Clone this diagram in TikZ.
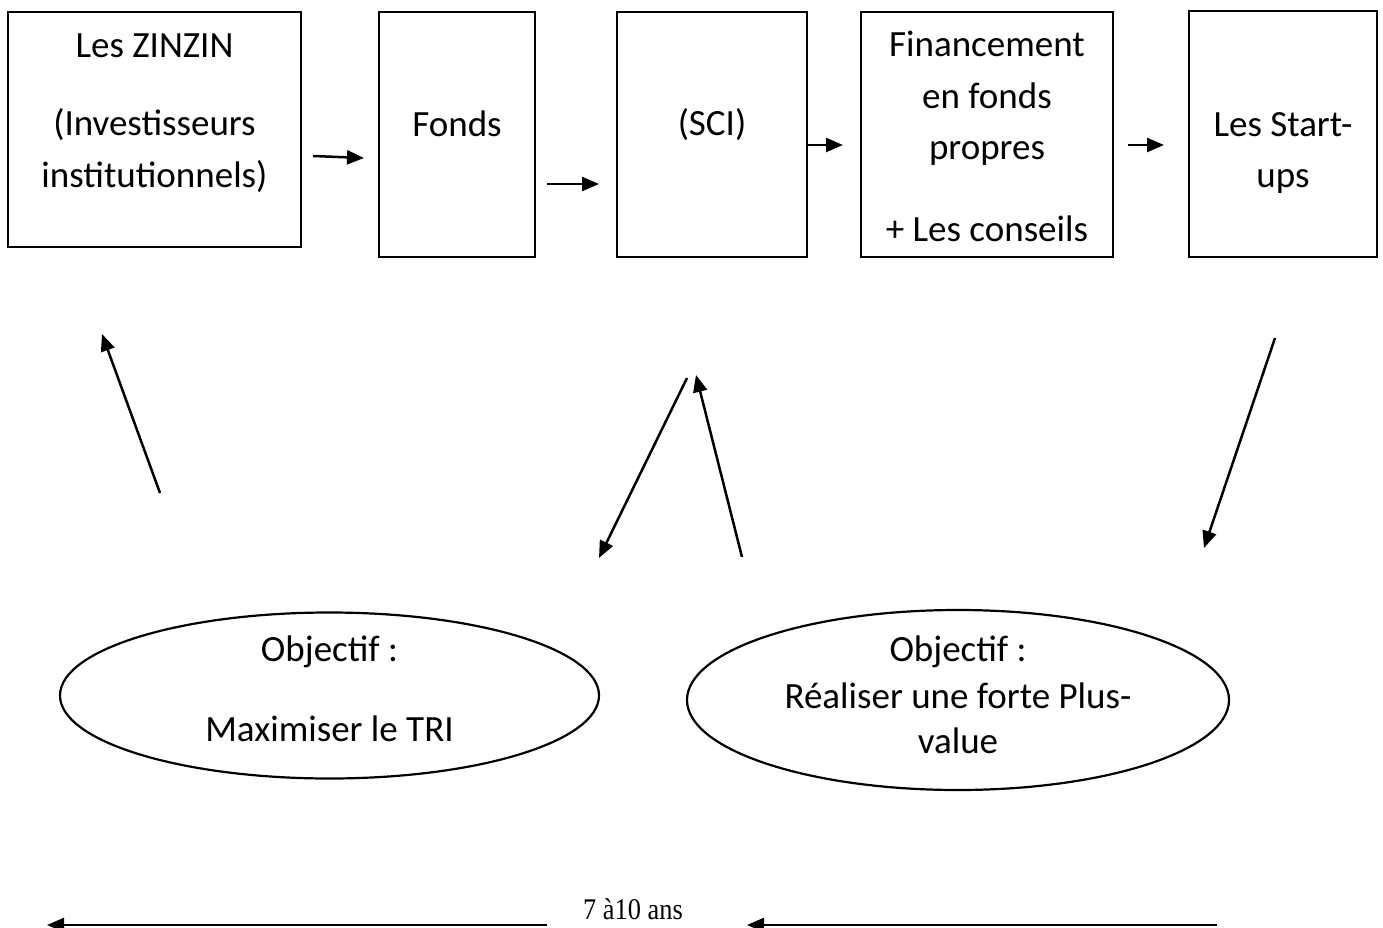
\documentclass[tikz,border=0pt]{standalone}
\usepackage{fontspec}
\setmainfont{Carlito}
\newfontfamily\timesfont{Liberation Serif}
\usetikzlibrary{arrows.meta,shapes.geometric}
\begin{document}
\begin{tikzpicture}[x=1pt,y=-1pt,
  box/.style={draw,line width=2.5pt,inner sep=0pt},
  oval/.style={draw,ellipse,line width=2.2pt,inner sep=0pt},
  txt/.style={anchor=base,inner sep=0pt,font=\fontsize{37pt}{44pt}\selectfont},
  arr/.style={line width=2.5pt,-{Triangle[length=17pt,width=14pt]}}]
\useasboundingbox (0,0) rectangle (1383,928);
% boxes
\node[box,minimum width=293pt,minimum height=235pt] (b1) at (154.5,129.5) {};
\node[box,minimum width=156pt,minimum height=245pt] (b2) at (457,134.5) {};
\node[box,minimum width=190pt,minimum height=245pt] (b3) at (712,134.5) {};
\node[box,minimum width=252pt,minimum height=245pt] (b4) at (987,134.5) {};
\node[box,minimum width=188pt,minimum height=246pt] (b5) at (1283,134) {};
% box texts
\node[txt] (t1a) at (154.5,58) {Les ZINZIN};
\node[txt] (t1b) at (154.5,136) {(Investisseurs};
\node[txt] (t1c) at (154.5,188) {institutionnels)};
\node[txt] (t2) at (457,137) {Fonds};
\node[txt] (t3) at (712,136) {(SCI)};
\node[txt] (t4a) at (987,57) {Financement};
\node[txt] (t4b) at (987,109) {en fonds};
\node[txt] (t4c) at (987,160) {propres};
\node[txt] (t4d) at (987,241) {+ Les conseils};
\node[txt] (t5a) at (1283,137) {Les Start-};
\node[txt] (t5b) at (1283,188) {ups};
% ellipses
\node[oval,minimum width=539pt,minimum height=166pt] (e1) at (329.5,695.5) {};
\node[oval,minimum width=542pt,minimum height=180pt] (e2) at (958,700) {};
\node[txt] (e1a) at (329.5,661) {Objectif :};
\node[txt] (e1b) at (329.5,741) {Maximiser le TRI};
\node[txt] (e2a) at (958,661) {Objectif :};
\node[txt] (e2b) at (958,708) {Réaliser une forte Plus-};
\node[txt] (e2c) at (958,753) {value};
% small horizontal arrows
\coordinate (a1s) at (313,156); \coordinate (a1e) at (364,158);
\coordinate (a2s) at (547,184); \coordinate (a2e) at (599,184);
\coordinate (a3s) at (808,145); \coordinate (a3e) at (843,145);
\coordinate (a4s) at (1128,145); \coordinate (a4e) at (1164,145);
\draw[arr] (a1s) -- (a1e);
\draw[arr] (a2s) -- (a2e);
\draw[arr] (a3s) -- (a3e);
\draw[arr] (a4s) -- (a4e);
% diagonal arrows
\coordinate (d1s) at (160,493); \coordinate (d1e) at (102,334);
\coordinate (d2s) at (687,378); \coordinate (d2e) at (599,558);
\coordinate (d3s) at (742,557); \coordinate (d3e) at (696,375);
\coordinate (d4s) at (1275,338); \coordinate (d4e) at (1204,548);
\draw[arr] (d1s) -- (d1e);
\draw[arr] (d2s) -- (d2e);
\draw[arr] (d3s) -- (d3e);
\draw[arr] (d4s) -- (d4e);
% bottom
\node[anchor=base,inner sep=0pt,xscale=0.88,font=\timesfont\fontsize{30pt}{34pt}\selectfont] (dur) at (633,919) {7 à10 ans};
\coordinate (l1s) at (547,925); \coordinate (l1e) at (47,925);
\coordinate (l2s) at (1217,925); \coordinate (l2e) at (747,925);
\draw[arr] (l1s) -- (l1e);
\draw[arr] (l2s) -- (l2e);
\end{tikzpicture}
\end{document}
